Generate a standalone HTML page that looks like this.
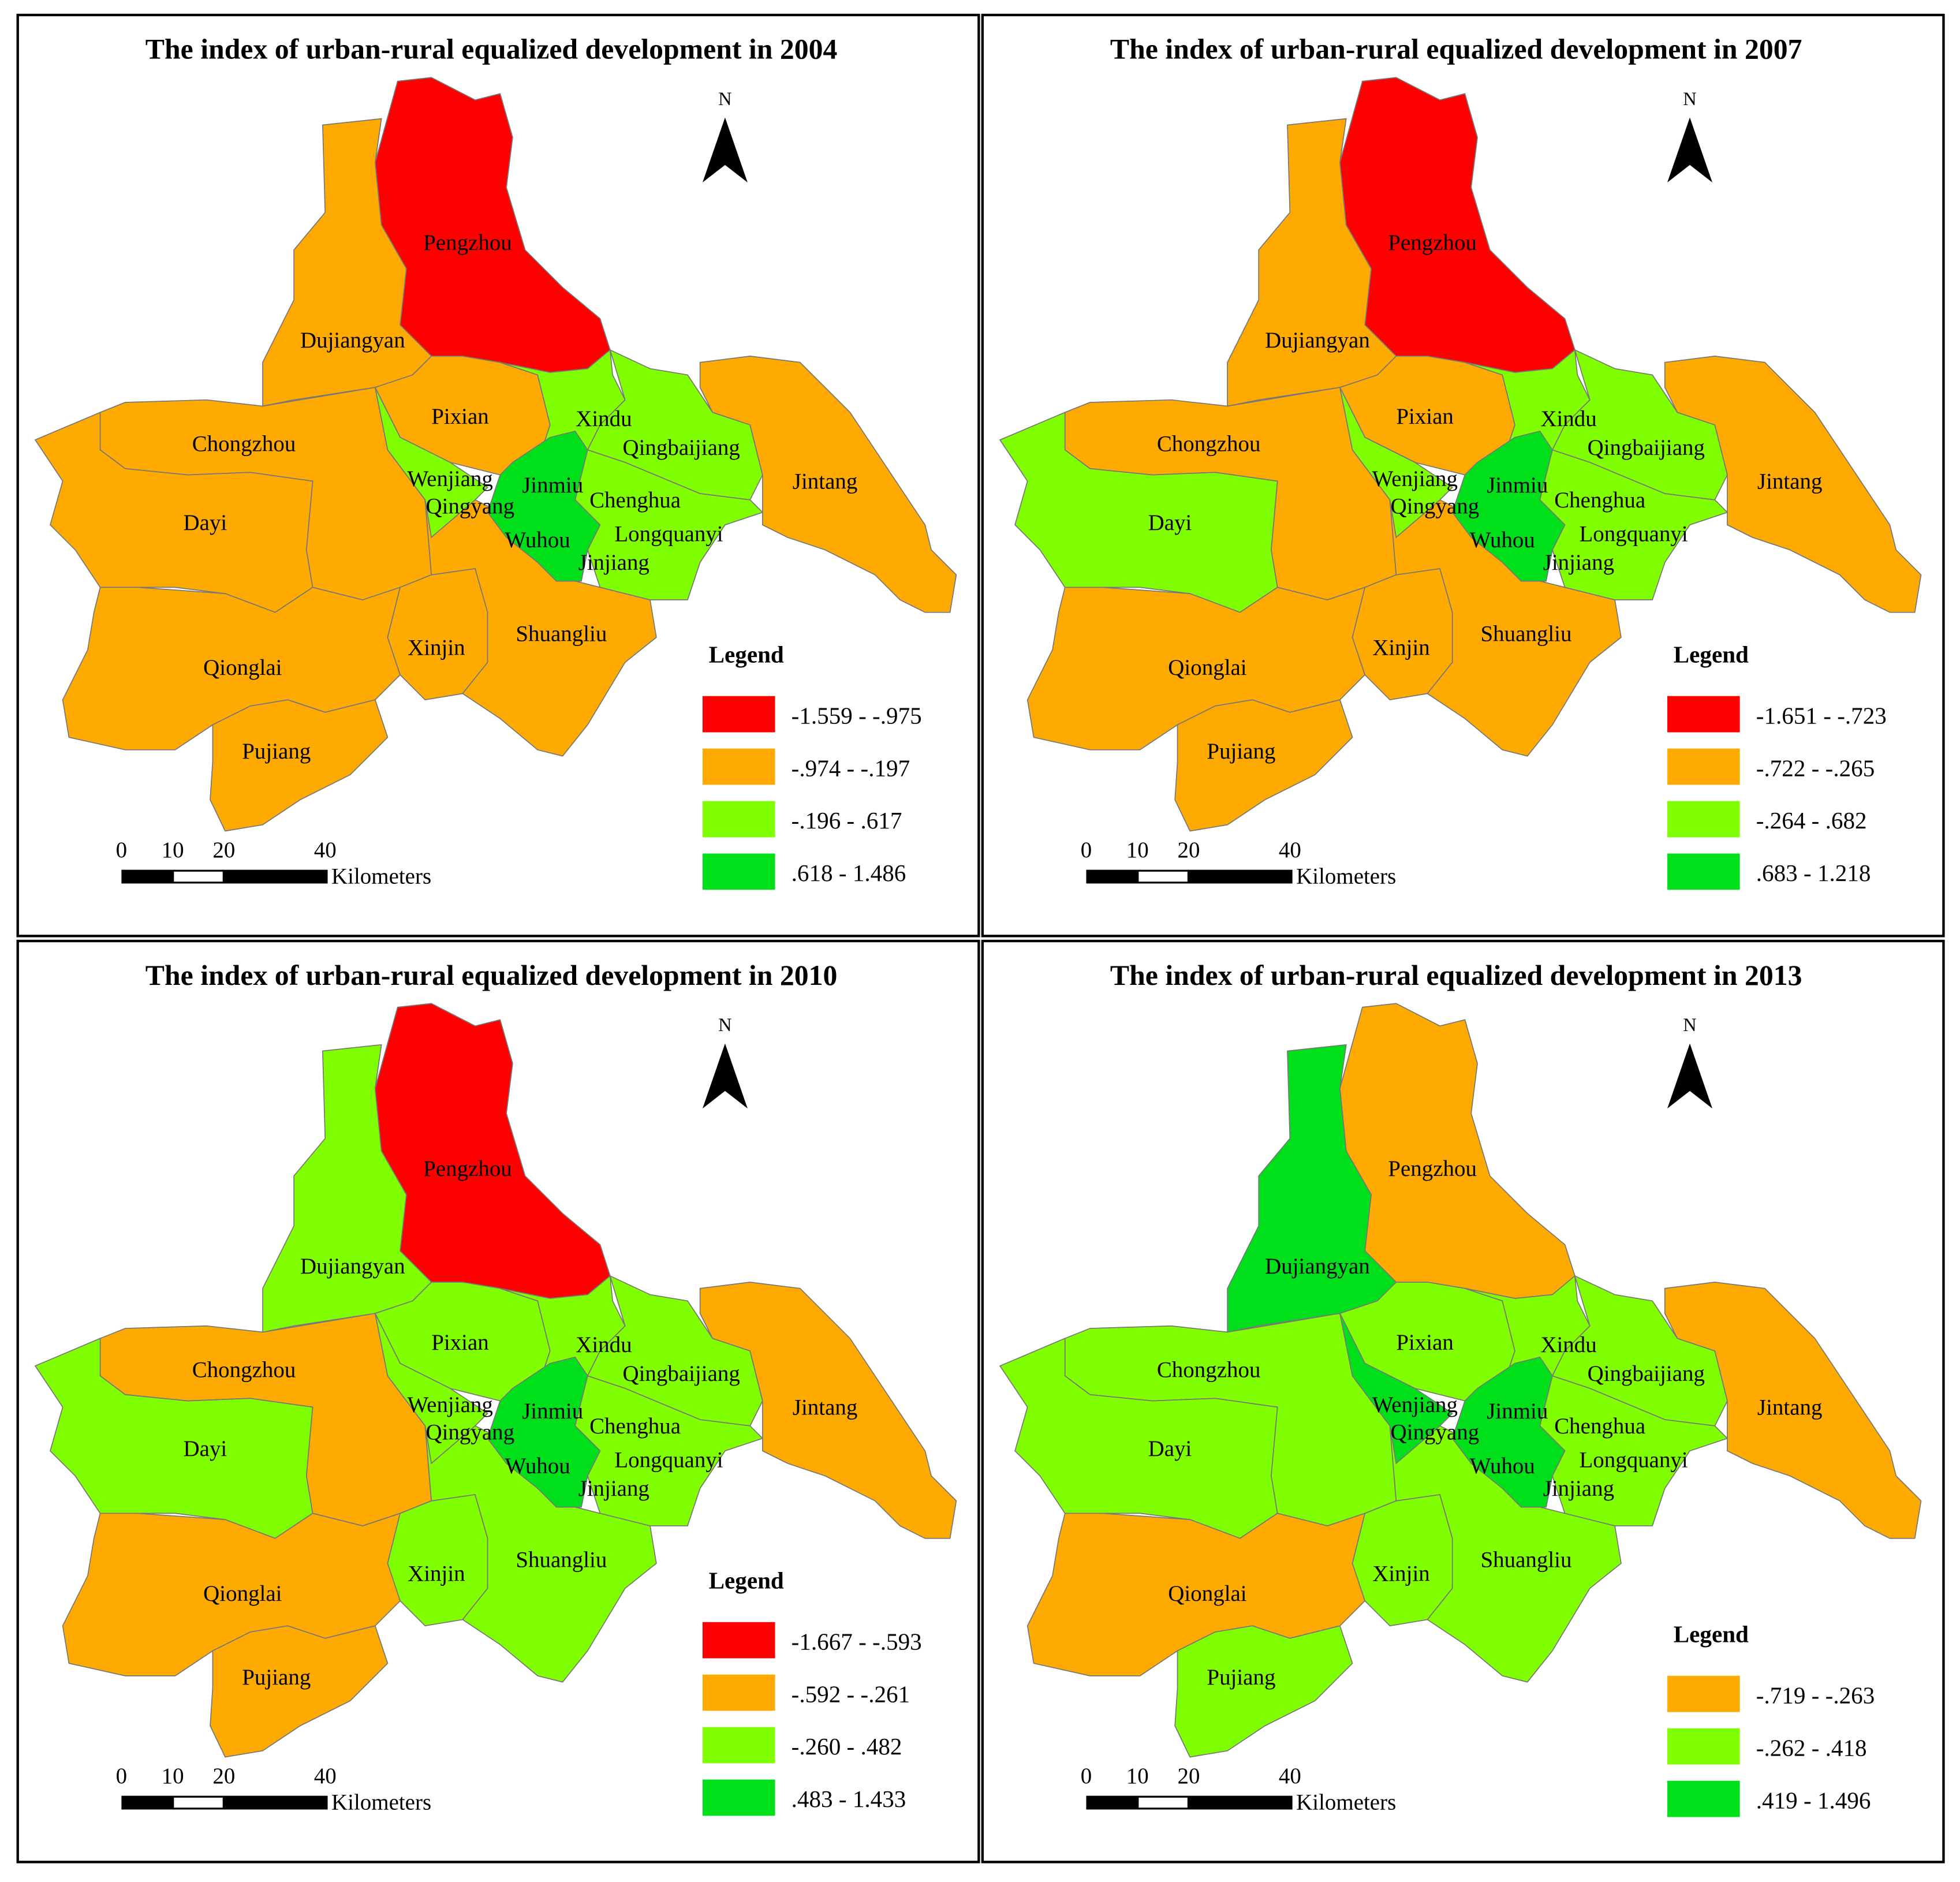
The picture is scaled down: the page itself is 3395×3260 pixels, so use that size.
<!DOCTYPE html>
<html><head><meta charset="utf-8"><style>
html,body{margin:0;padding:0;background:#fff}
svg{display:block}
text{font-family:"Liberation Serif",serif}
</style></head><body>
<svg id="map" width="3395" height="3260" viewBox="0 0 1568 1506" xmlns="http://www.w3.org/2000/svg" font-family="Liberation Serif, serif"></svg>
<script>
const years = ["2004","2007","2010","2013"];
const legendRanges = [
  ["-1.559 - -.975","-.974 - -.197","-.196 - .617",".618 - 1.486"],
  ["-1.651 - -.723","-.722 - -.265","-.264 - .682",".683 - 1.218"],
  ["-1.667 - -.593","-.592 - -.261","-.260 - .482",".483 - 1.433"],
  ["-.719 - -.263","-.262 - .418",".419 - 1.496"]
];
const legendClasses = [["r","o","l","d"],["r","o","l","d"],["r","o","l","d"],["o","l","d"]];
const districtNames = ["Pengzhou","Dujiangyan","Chongzhou","Dayi","Qionglai","Pujiang","Xinjin","Shuangliu","Pixian","Wenjiang","Xindu","Qingbaijiang","Longquanyi","Jintang","Central"];
const classes2004 = ["r","o","o","o","o","o","o","o","o","l","l","l","l","o","d"];
const classes2007 = ["r","o","o","l","o","o","o","o","o","l","l","l","l","o","d"];
const classes2010 = ["r","l","o","l","o","o","l","l","l","l","l","l","l","o","d"];
const classes2013 = ["o","d","l","l","o","l","l","l","l","d","l","l","l","o","d"];
const yearClasses = [classes2004,classes2007,classes2010,classes2013];
const colors = {r:"#ff0000",o:"#ffaa00",l:"#80ff00",d:"#00e01a"};
const shapes = {
Pengzhou:[[300,130],[318,65],[345,62],[380,80],[400,75],[410,110],[405,150],[420,200],[450,230],[480,255],[488,280],[470,295],[440,298],[400,290],[370,285],[345,285],[320,260],[325,215],[305,180]],
Dujiangyan:[[258,100],[305,95],[300,130],[305,180],[325,215],[320,260],[345,285],[330,300],[300,310],[235,320],[210,325],[210,290],[235,240],[235,200],[260,170]],
Chongzhou:[[80,330],[100,322],[165,320],[210,325],[300,310],[310,360],[340,400],[345,460],[320,470],[290,480],[250,470],[245,440],[250,385],[200,378],[150,380],[100,375],[80,360]],
Dayi:[[28,352],[80,330],[80,360],[100,375],[150,380],[200,378],[250,385],[245,440],[250,470],[220,490],[180,475],[140,470],[110,470],[80,470],[60,440],[40,420],[50,385]],
Qionglai:[[80,470],[110,470],[180,475],[220,490],[250,470],[290,480],[320,470],[310,510],[320,540],[300,560],[260,570],[230,560],[200,565],[170,580],[140,600],[100,600],[55,590],[50,560],[70,520],[75,490]],
Pujiang:[[170,580],[200,565],[230,560],[260,570],[300,560],[310,590],[280,620],[240,640],[210,660],[180,665],[168,640],[170,610]],
Xinjin:[[320,470],[345,460],[380,455],[390,490],[390,530],[370,555],[340,560],[320,540],[310,510]],
Shuangliu:[[345,460],[340,400],[380,400],[420,420],[440,460],[480,470],[520,480],[525,510],[500,530],[470,580],[450,605],[430,600],[400,575],[370,555],[390,530],[390,490],[380,455]],
Pixian:[[300,310],[330,300],[345,285],[370,285],[400,290],[430,300],[440,340],[430,370],[400,380],[360,370],[320,350]],
Wenjiang:[[300,310],[320,350],[360,370],[390,390],[380,400],[345,430],[340,400],[310,360]],
Xindu:[[400,290],[440,298],[470,295],[488,280],[490,300],[500,320],[480,340],[470,360],[440,360],[430,370],[440,340],[430,300]],
Qingbaijiang:[[488,280],[520,295],[550,300],[570,330],[600,340],[610,380],[600,400],[560,395],[500,370],[470,360],[480,340],[500,320]],
Longquanyi:[[470,360],[500,370],[560,395],[600,400],[610,410],[580,420],[560,450],[550,480],[520,480],[480,470],[470,440],[480,420],[460,400]],
Jintang:[[560,290],[600,285],[640,290],[680,330],[700,360],[720,390],[740,420],[745,440],[765,460],[760,490],[740,490],[720,480],[700,460],[660,440],[630,430],[610,420],[610,380],[600,340],[570,330],[560,310]],
Central:[[410,370],[440,350],[460,345],[470,360],[460,400],[480,420],[470,440],[465,465],[445,465],[430,450],[405,430],[390,410],[400,380]]
};
const labels = [["Pengzhou",374,194],["Dujiangyan",282,272],["Pixian",368,333],["Xindu",483,335],["Chongzhou",195,355],["Qingbaijiang",545,358],["Jintang",660,385],["Wenjiang",360,383],["Jinmiu",442,388],["Chenghua",508,400],["Qingyang",376,405],["Dayi",164,418],["Wuhou",430,432],["Longquanyi",535,427],["Jinjiang",491,450],["Shuangliu",449,507],["Xinjin",349,518],["Qionglai",194,534],["Pujiang",221,601]];
const offsets = [[0,0],[772,0],[0,741],[772,741]];
const NS="http://www.w3.org/2000/svg";
const svg=document.getElementById('map');
const FF='"Liberation Serif", serif';
function mk(tag,attrs,parent){const e=document.createElementNS(NS,tag);for(const k in attrs)e.setAttribute(k,attrs[k]);(parent||svg).appendChild(e);return e;}
years.forEach((yr,p)=>{
  const [ox,oy]=offsets[p];
  const g=mk('g',{transform:`translate(${ox},${oy})`});
  
  
  const fr=mk('rect',{x:14,y:12,width:769,height:737,fill:'none',stroke:'#000','stroke-width':2},g);
  
  
  const t=mk('text',{x:393,y:47,'text-anchor':'middle','font-size':23,'font-weight':'bold','font-family':FF},g);
  t.textContent='The index of urban-rural equalized development in '+yr;
  
  
  districtNames.forEach((nm,i)=>{
    const pts=shapes[nm].map(q=>q.join(',')).join(' ');
    const pg=mk('polygon',{points:pts,fill:colors[yearClasses[p][i]],stroke:'#777','stroke-width':0.8},g);
    
    
  });
  labels.forEach(l=>{
    const tx=mk('text',{x:l[1],y:l[2]+6,'text-anchor':'middle','font-size':18,'font-family':FF},g);
    tx.textContent=l[0];
    
    
  });
  const n=mk('text',{x:580,y:84,'text-anchor':'middle','font-size':15,'font-family':FF},g);n.textContent='N';
  
  
  const ar=mk('polygon',{points:'580,94 562,146 580,132 598,146',fill:'#000'},g);
  
  
  [["0",97],["10",138],["20",179],["40",260]].forEach(s=>{
    const st=mk('text',{x:s[1],y:686,'text-anchor':'middle','font-size':18,'font-family':FF},g);st.textContent=s[0];
    
    
  });
  const sb=mk('g',{},g);
  
  
  mk('rect',{x:97,y:696,width:165,height:11,fill:'#000'},sb);
  mk('rect',{x:139,y:697.5,width:39,height:8,fill:'#fff'},sb);
  const km=mk('text',{x:265,y:707,'font-size':18,'font-family':FF},g);km.textContent='Kilometers';
  
  
  const rng=legendRanges[p], cls=legendClasses[p];
  const y0 = rng.length===4 ? 557 : 600;
  const lt=mk('text',{x:597,y:y0-27,'text-anchor':'middle','font-size':19,'font-weight':'bold','font-family':FF},g);lt.textContent='Legend';
  
  
  rng.forEach((r,i)=>{
    const sw=mk('rect',{x:562,y:y0+i*42,width:58,height:29,fill:colors[cls[i]]},g);
    
    
    const lx=mk('text',{x:633,y:y0+i*42+22,'font-size':19,'font-family':FF},g);lx.textContent=r;
    
    
  });
});
</script>
</body></html>
